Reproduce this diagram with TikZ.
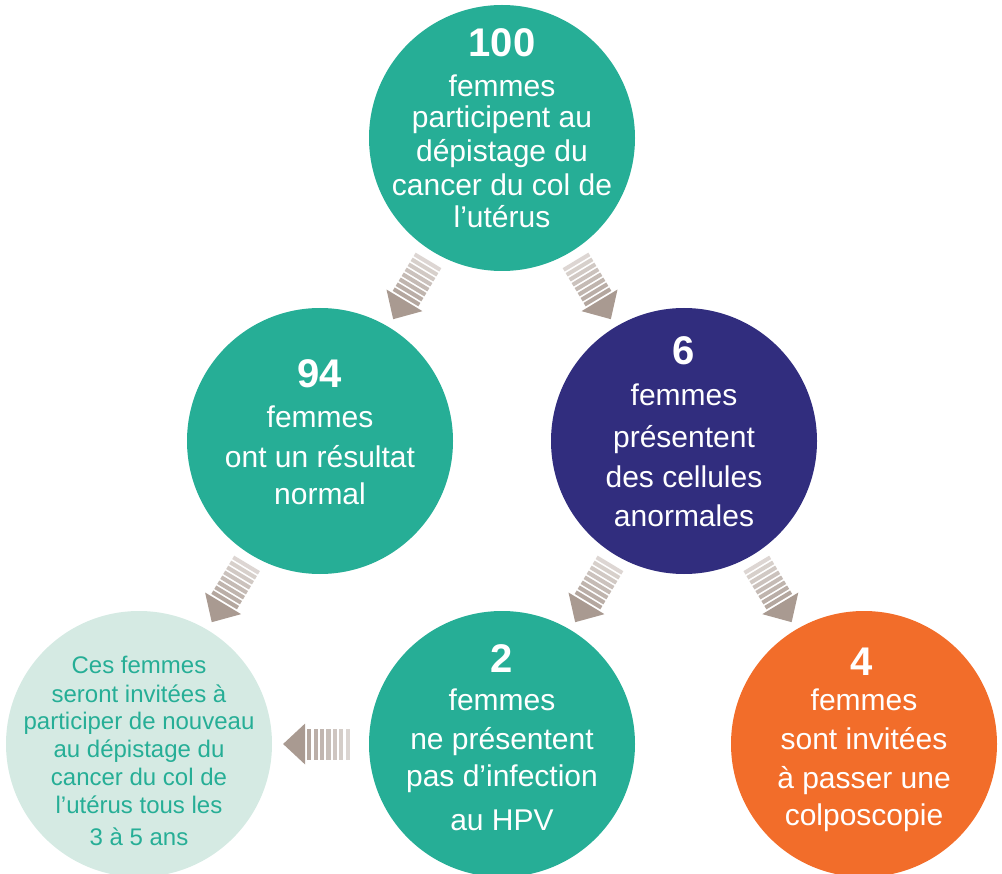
\documentclass[tikz,border=0pt]{standalone}
\usepackage{fontspec}
\setmainfont{Liberation Sans}
\usetikzlibrary{calc}
\definecolor{teal}{HTML}{26AE96}
\definecolor{purp}{HTML}{312D7E}
\definecolor{orng}{HTML}{F26D2A}
\definecolor{pale}{HTML}{D5EAE3}
\definecolor{agray}{HTML}{A99A91}
\tikzset{
  disc/.style={circle, inner sep=0pt, minimum size=266pt},
  num/.style={text=white, font=\fontsize{40}{44}\selectfont\bfseries, anchor=base, inner sep=0pt},
  body/.style={text=white, font=\fontsize{30}{33}\selectfont, anchor=base, inner sep=0pt},
  small/.style={text=teal, font=\fontsize{24}{28}\selectfont, anchor=base, inner sep=0pt},
  sarrow/.pic={
    \fill[agray] (0,0) -- (-22,21) -- (-22,-21) -- cycle;
    \foreach \i in {0,...,7}{
      \pgfmathsetmacro\p{87-6.7*\i}
      \fill[agray!\p!white] ({-24-5.8*\i},-15) rectangle ({-28-5.8*\i},15);
    }
  },
  harrow/.pic={
    \fill[agray] (0,0) -- (-22,20.5) -- (-22,-20.5) -- cycle;
    \foreach \i in {0,...,6}{
      \pgfmathsetmacro\p{87-7.5*\i}
      \fill[agray!\p!white] ({-24-6.4*\i},-15.5) rectangle ({-28.2-6.4*\i},15.5);
    }
  }
}
\begin{document}
\begin{tikzpicture}[x=1pt,y=-1pt]
\useasboundingbox (0,0) rectangle (1002,874);
% circles
\node[disc, fill=teal] (c100) at (502,138) {};
\node[disc, fill=teal] (c94) at (320,441) {};
\node[disc, fill=purp] (c6) at (684,441) {};
\node[disc, fill=pale] (cpale) at (139,744) {};
\node[disc, fill=teal] (c2) at (502,744) {};
\node[disc, fill=orng] (c4) at (864,744) {};
% arrows
\path ($(c100)!0.598!(c94)$) pic[rotate=-121] {sarrow};
\path ($(c100)!0.598!(c6)$) pic[rotate=-59] {sarrow};
\path ($(c94)!0.598!(cpale)$) pic[rotate=-121] {sarrow};
\path ($(c6)!0.598!(c2)$) pic[rotate=-121] {sarrow};
\path ($(c6)!0.598!(c4)$) pic[rotate=-59] {sarrow};
\path ($(c2)!0.603!(cpale)$) pic[rotate=180] {harrow};
% texts top
\node[num] (n100) at (502,57) {100};
\foreach \t/\yy [count=\k] in {femmes/97, participent au/128, dépistage du/162, cancer du col de/196, l’utérus/228}
  \node[body] (ta\k) at (502,\yy) {\t};
% left
\node[num] (n94) at (320,388) {94};
\foreach \t/\yy [count=\k] in {femmes/428, ont un résultat/468, normal/504}
  \node[body] (tb\k) at (320,\yy) {\t};
% purple
\node[num] (n6) at (684,365) {6};
\foreach \t/\yy [count=\k] in {femmes/406, présentent/448, des cellules/488, anormales/526}
  \node[body] (tc\k) at (684,\yy) {\t};
% bottom middle
\node[num] (n2) at (502,672) {2};
\foreach \t/\yy [count=\k] in {femmes/710, ne présentent/749, pas d’infection/786, au HPV/830}
  \node[body] (td\k) at (502,\yy) {\t};
% orange
\node[num] (n4) at (862,675) {4};
\foreach \t/\yy [count=\k] in {femmes/710, sont invitées/749, à passer une/788, colposcopie/825}
  \node[body] (te\k) at (864,\yy) {\t};
% pale
\foreach \t/\yy [count=\k] in {Ces femmes/673, seront invitées à/702, participer de nouveau/729, au dépistage du/757, cancer du col de/785, l’utérus tous les/813, 3 à 5 ans/845}
  \node[small] (tf\k) at (139,\yy) {\t};
\end{tikzpicture}
\end{document}
